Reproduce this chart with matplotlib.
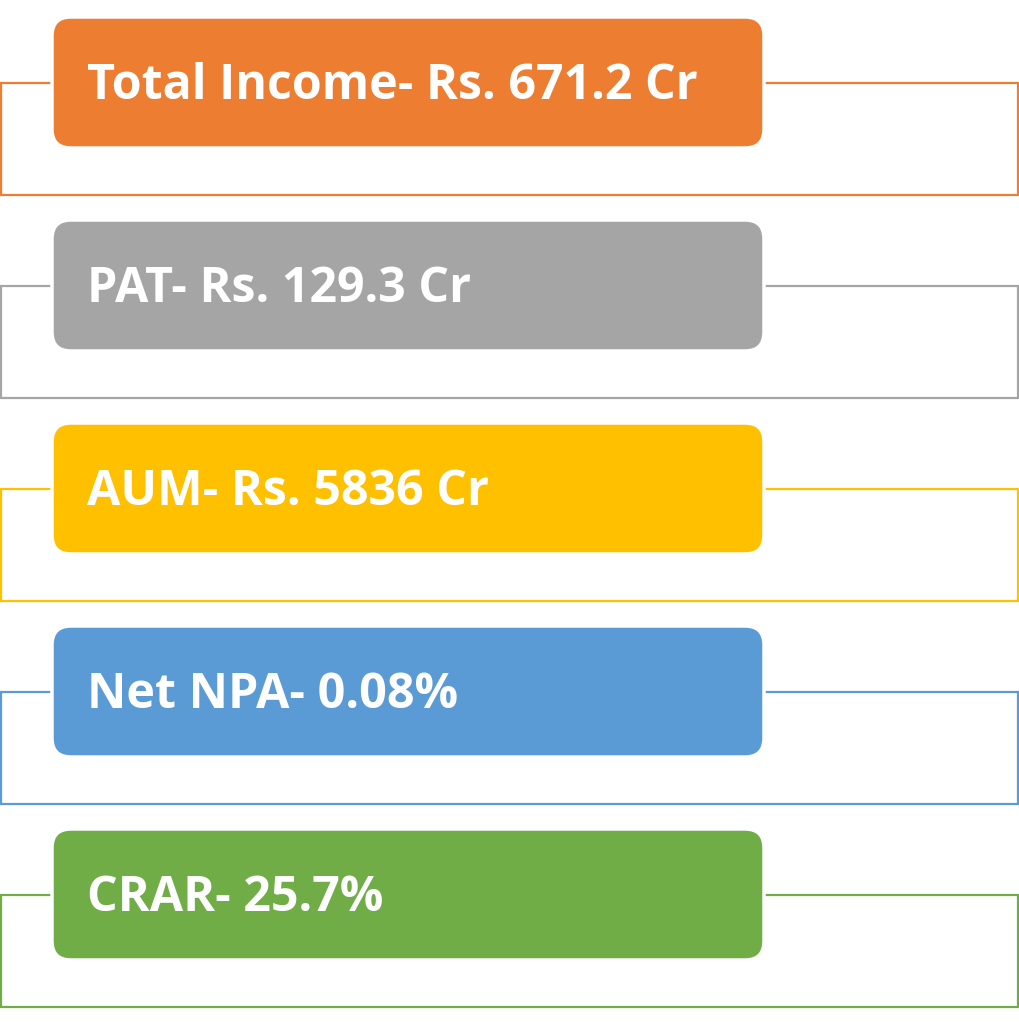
import matplotlib
matplotlib.use("Agg")
import matplotlib.pyplot as plt
from matplotlib.patches import FancyBboxPatch, Rectangle

labels = ["Total Income- Rs. 671.2 Cr", "PAT- Rs. 129.3 Cr", "AUM- Rs. 5836 Cr",
          "Net NPA- 0.08%", "CRAR- 25.7%"]
colors = ["#ED7D31", "#A5A5A5", "#FFC000", "#5B9BD5", "#70AD47"]

fig = plt.figure(figsize=(10.2, 10.24), dpi=100)
ax = fig.add_axes([0, 0, 1, 1])
ax.set_xlim(0, 1020)
ax.set_ylim(1024, 0)
ax.axis("off")

step = 203
for i, (lab, col) in enumerate(zip(labels, colors)):
    top = 18 + i * step
    # outline frame behind the box
    ax.add_patch(Rectangle((1, top + 65), 1017, 112, fill=False, edgecolor=col, lw=1.6, zorder=1))
    # rounded box with white edge
    r = 19
    ax.add_patch(FancyBboxPatch((52 + r, top - 1 + r), 712 - 2 * r, 131 - 2 * r,
                                boxstyle="round,pad=%d" % r, facecolor=col,
                                edgecolor="white", lw=2.5, zorder=2))
    ax.text(87, top + 81, lab, color="white", fontsize=34.8, fontweight="bold",
            family="Open Sans", va="baseline", ha="left", zorder=3)

fig.savefig("out.png", dpi=100)
